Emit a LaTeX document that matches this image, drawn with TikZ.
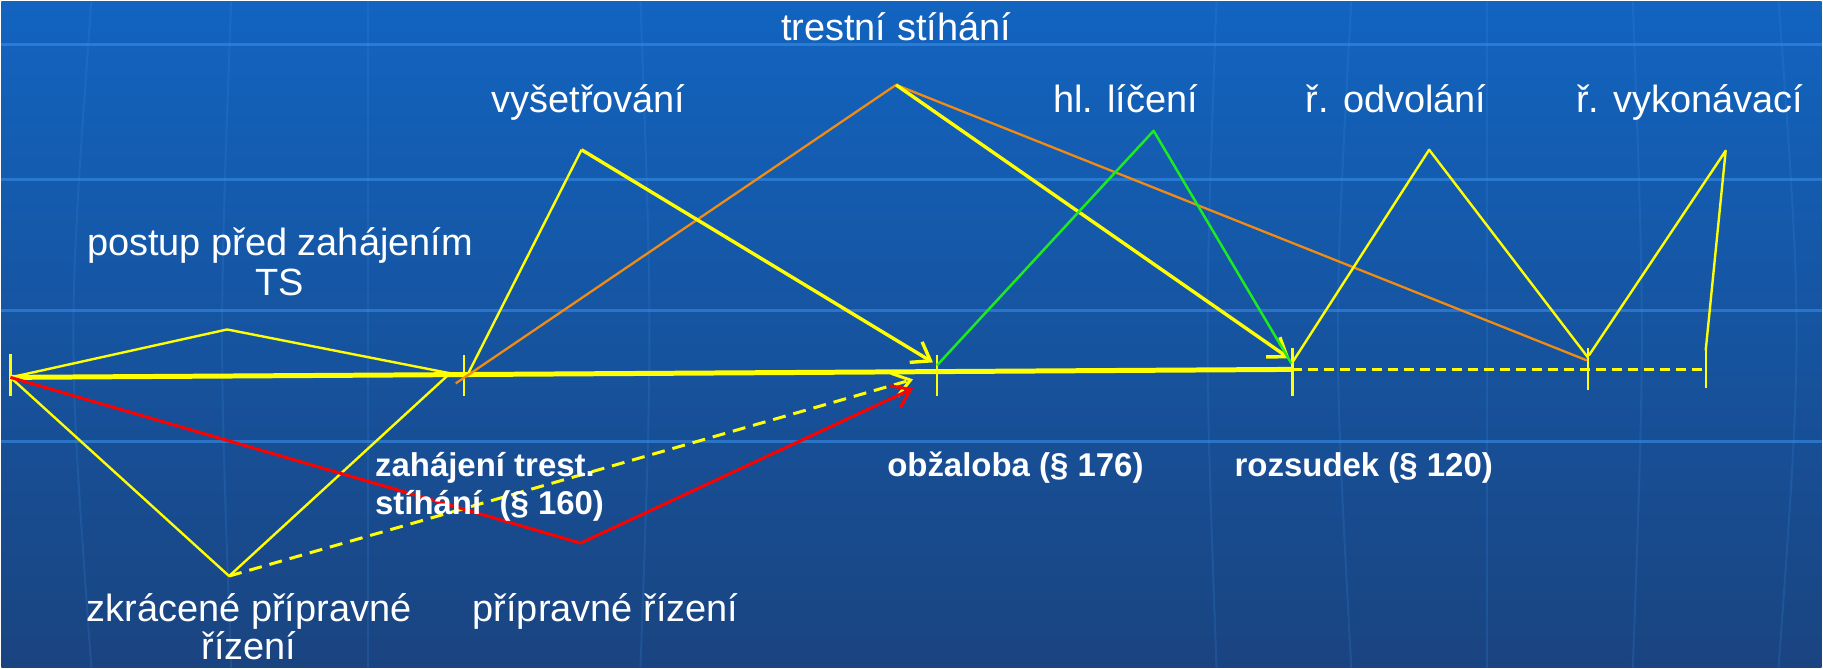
\documentclass[tikz,border=0pt]{standalone}
\usepackage{fontspec}
\setmainfont{Liberation Sans}
\usetikzlibrary{arrows.meta}
\definecolor{ylw}{RGB}{255,255,0}
\definecolor{org}{RGB}{240,140,20}
\definecolor{grn}{RGB}{30,235,30}
\definecolor{rd}{RGB}{255,0,0}
\definecolor{bgtop}{RGB}{18,100,192}
\definecolor{bgmid}{RGB}{10,76,156}
\definecolor{bgbot}{RGB}{26,68,128}
\definecolor{glow}{RGB}{60,145,235}
\begin{document}
\begin{tikzpicture}[x=1pt,y=-1pt,
  lbl/.style={text=white, font=\fontsize{38}{42}\selectfont, inner sep=0pt, anchor=base},
  blbl/.style={text=white, font=\bfseries\fontsize{33}{38}\selectfont, inner sep=0pt, anchor=base west},
  thin/.style={draw=ylw, line width=2.4pt, line join=round},
  thick/.style={draw=ylw, line width=3.4pt, line join=round},
  axis/.style={draw=ylw, line width=5pt},
  tick/.style={draw=ylw, line width=2.4pt},
  dashax/.style={draw=ylw, line width=2.4pt, dash pattern=on 10pt off 6pt},
  barb/.style={-{Straight Barb[length=17pt,width=24pt]}},
]
% background
\shade[top color=bgtop, middle color=bgmid, bottom color=bgbot] (0,0) rectangle (1823,668);
\foreach \yy in {44,179,310,441}
  \draw[glow, line width=3pt, opacity=0.55] (0,\yy) -- (1823,\yy);
\foreach \xx/\bend in {90/-4,230/-2,367/0,640/2,1217/-2,1352/-3,1488/0,1634/2,1780/4}
  \draw[glow, line width=2pt, opacity=0.18] (\xx,0) .. controls (\xx+\bend*6,334) .. (\xx,668);
\useasboundingbox (0,0) rectangle (1823,668);

% timeline points
\coordinate (A) at (9,377);
\coordinate (B) at (463,373);
\coordinate (C) at (937,371);
\coordinate (D) at (1293,369);
\coordinate (E) at (1589,369);
\coordinate (F) at (1704,369);
% peaks
\coordinate (Pp) at (226,329);
\coordinate (Pz) at (228,576);
\coordinate (Pr) at (580,543);
\coordinate (Pv) at (581,149);
\coordinate (Pt) at (896,84);
\coordinate (Pl) at (1154,130);
\coordinate (Po) at (1430,149);
\coordinate (Pk) at (1727,150);
% auxiliary ends
\coordinate (Bu) at (455,374);
\coordinate (Bl) at (447,375);
\coordinate (Bv) at (468,372);
\coordinate (Bo) at (455,383);
\coordinate (Cv) at (933,362);
\coordinate (Cg) at (937,365);
\coordinate (Dt) at (1290,358);
\coordinate (Dg) at (1292,363);
\coordinate (Do) at (1293,362);
\coordinate (Eo) at (1589,357);
\coordinate (Er) at (1588,360);
\coordinate (Ek) at (1590,355);
\coordinate (Ft) at (1707,350);
\coordinate (Fb) at (1707,388);
\coordinate (Td) at (913,379);
\coordinate (Tr) at (913,388);

% main axis
\draw[axis] (A) -- (D);
\draw[dashax] (D) -- (F);
% ticks
\draw[tick] (9,354) -- (9,396);
\draw[tick] (463,355) -- (463,396);
\draw[tick] (937,355) -- (937,396);
\draw[tick] (1293,348) -- (1293,396);
\draw[tick] (1589,348) -- (1589,390);
\draw[tick] (Ft) -- (Fb);

% diamonds
\draw[thin] (A) -- (Pp) -- (Bu);
\draw[thin] (A) -- (Pz) -- (Bl);
\draw[thin, barb, dash pattern=on 13pt off 8pt, line width=3pt] (Pz) -- (Td);
\draw[draw=rd, line width=3pt, line join=round, barb] (A) -- (Pr) -- (Tr);

% orange
\draw[draw=org, line width=2.3pt, line join=round] (Bo) -- (Pt) -- (Er);
% vysetrovani
\draw[thin] (Bv) -- (Pv);
\draw[thick, barb] (Pv) -- (Cv);
% trestni stihani descent
\draw[thick, barb] (Pt) -- (Dt);
% green
\draw[draw=grn, line width=2.5pt, line join=round] (Cg) -- (Pl) -- (Dg);
% odvolani
\draw[thin] (Do) -- (Po) -- (Eo);
% vykonavaci
\draw[thin] (Ek) -- (Pk) -- (Ft);

% labels
\node[lbl] (l1) at (896,40) {trestní stíhání};
\node[lbl] (l2) at (588,112) {vyšetřování};
\node[lbl] (l3) at (1126,112) {hl. líčení};
\node[lbl] (l4) at (1397,112) {ř. odvolání};
\node[lbl] (l5) at (1691,112) {ř. vykonávací};
\node[lbl] (l6) at (279,255) {postup před zahájením};
\node[lbl] (l6b) at (279,295) {TS};
\node[lbl] (l7) at (248,622) {zkrácené přípravné};
\node[lbl] (l7b) at (248,660) {řízení};
\node[lbl] (l8) at (605,622) {přípravné řízení};
\node[blbl] (b1) at (374,476) {zahájení trest.};
\node[blbl] (b1b) at (374,514) {stíhání\ \ (§ 160)};
\node[blbl] (b2) at (887,476) {obžaloba (§ 176)};
\node[blbl] (b3) at (1235,476) {rozsudek (§ 120)};
\end{tikzpicture}
\end{document}
